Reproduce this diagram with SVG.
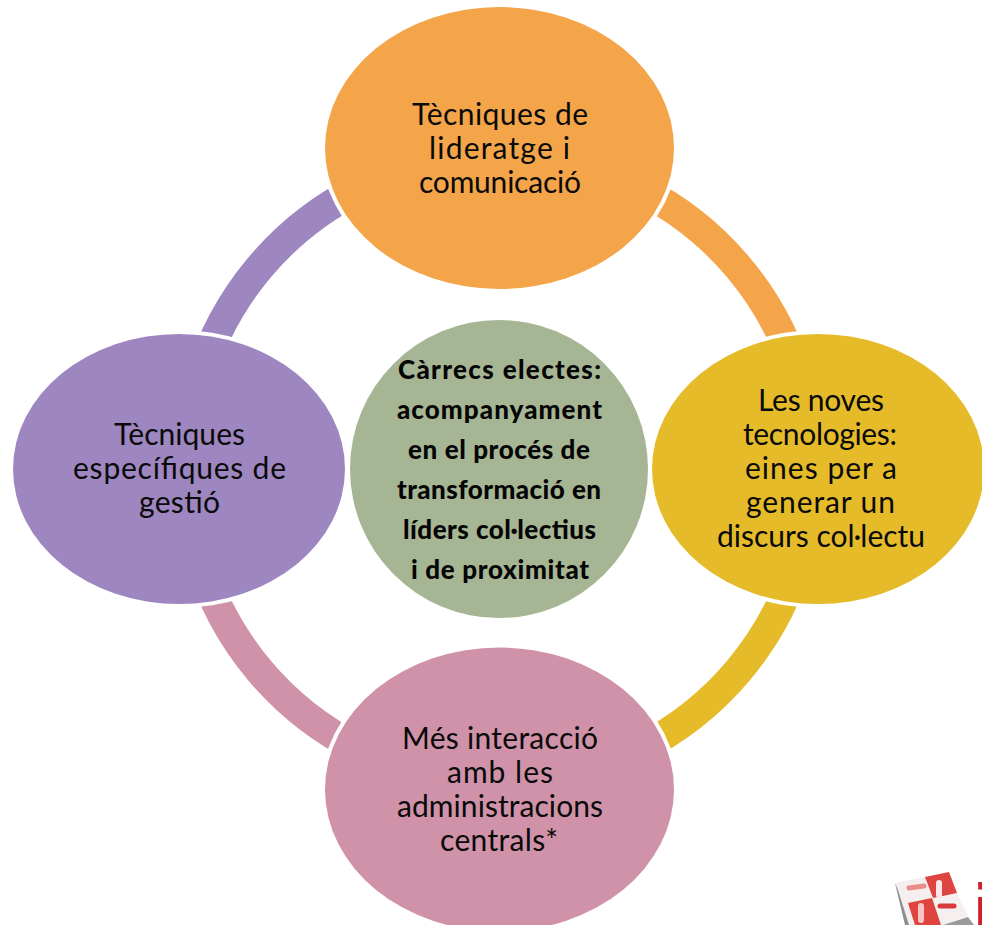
<svg xmlns="http://www.w3.org/2000/svg" width="982" height="925" viewBox="0 0 982 925">
<style>
.l{font-family:"Lato","Liberation Sans",sans-serif;font-size:30px;fill:#0a0a0a;text-anchor:middle}
.c{font-family:"Lato","Liberation Sans",sans-serif;font-size:26px;font-weight:900;fill:#050505;text-anchor:middle}
.a{fill:none;stroke-width:30}
</style>
<defs><filter id="soft" x="-5%" y="-5%" width="110%" height="110%"><feGaussianBlur stdDeviation="0.7"/></filter></defs>
<rect width="982" height="925" fill="#fff"/>
<g id="connectors">
<path class="a" stroke="#f4a549" d="M639 189A313 313 0 0 1 799 380"/>
<path class="a" stroke="#e5bb29" d="M799 558A313 313 0 0 1 639 749"/>
<path class="a" stroke="#cf92a8" d="M359 749A313 313 0 0 1 199 558"/>
<path class="a" stroke="#9e86c0" d="M199 380A313 313 0 0 1 359 189"/>
</g>
<g id="node-top">
<ellipse cx="499.500" cy="148" rx="178.500" ry="145" fill="#fff"/>
<ellipse cx="499.500" cy="148" rx="174.500" ry="141" fill="#f4a549"/>
<text class="l" x="500" y="125" textLength="176">Tècniques de</text>
<text class="l" x="499.500" y="159" textLength="141">lideratge i</text>
<text class="l" x="500" y="192.500" textLength="162">comunicació</text>
</g>
<g id="node-right">
<ellipse cx="818" cy="469" rx="170" ry="139" fill="#fff"/>
<ellipse cx="818" cy="469" rx="166" ry="135" fill="#e5bb29"/>
<text class="l" x="821" y="411" textLength="126">Les noves</text>
<text class="l" x="820" y="445" textLength="154">tecnologies:</text>
<text class="l" x="821" y="479" textLength="152">eines per a</text>
<text class="l" x="820.500" y="513" textLength="149">generar un</text>
<text class="l" x="821" y="547" textLength="208">discurs col·lectu</text>
</g>
<g id="node-bottom">
<ellipse cx="499.500" cy="789.500" rx="178.500" ry="146" fill="#fff"/>
<ellipse cx="499.500" cy="789.500" rx="174.500" ry="142" fill="#cf92a8"/>
<text class="l" x="500" y="749" textLength="196">Més interacció</text>
<text class="l" x="500" y="783" textLength="106">amb les</text>
<text class="l" x="500" y="817" textLength="206">administracions</text>
<text class="l" x="499" y="851" textLength="118">centrals*</text>
</g>
<g id="node-left">
<ellipse cx="179" cy="469" rx="170" ry="139" fill="#fff"/>
<ellipse cx="179" cy="469" rx="166" ry="135" fill="#9e86c0"/>
<text class="l" x="179.500" y="445" textLength="131">Tècniques</text>
<text class="l" x="179.500" y="479" textLength="213">específiques de</text>
<text class="l" x="179.500" y="513" textLength="81">gestió</text>
</g>
<g id="node-center">
<circle cx="499" cy="469" r="149" fill="#a6b594"/>
<text class="c" x="499.500" y="379" textLength="203">Càrrecs electes:</text>
<text class="c" x="499.500" y="419" textLength="205">acompanyament</text>
<text class="c" x="499" y="459" textLength="182">en el procés de</text>
<text class="c" x="499" y="499" textLength="204">transformació en</text>
<text class="c" x="499.500" y="539" textLength="193">líders col·lectius</text>
<text class="c" x="500" y="579" textLength="178">i de proximitat</text>
</g>
<g id="logo">
<g filter="url(#soft)">
<path d="M895 883L949 872L958 895L968 916L944 925H906Z" fill="#f5efef"/>
<path d="M895 883L898 890L909 925H905Z" fill="#8f8f8f"/>
<path d="M925 877L949 872L957 893L933 898Z" fill="#df4441"/>
<path d="M908 903L932 898L941 925H915Z" fill="#df4441"/>
<path d="M909 888L924 886" stroke="#e88d8a" stroke-width="5" stroke-linecap="round" fill="none"/>
<path d="M940 906L954 906" stroke="#d93a3a" stroke-width="5" stroke-linecap="round" fill="none"/>
<path d="M939 883V895" stroke="#fbe9e9" stroke-width="6" stroke-linecap="round" fill="none"/>
<path d="M921 906V920" stroke="#f6c6c4" stroke-width="6" stroke-linecap="round" fill="none"/>
<path d="M943 925L968 917L974 925Z" fill="#9a9a9a"/>
</g>
<text x="973" y="936" font-family="'Liberation Sans',sans-serif" font-size="74" font-weight="700" fill="#cf1f2a">i</text>
</g>
</svg>
